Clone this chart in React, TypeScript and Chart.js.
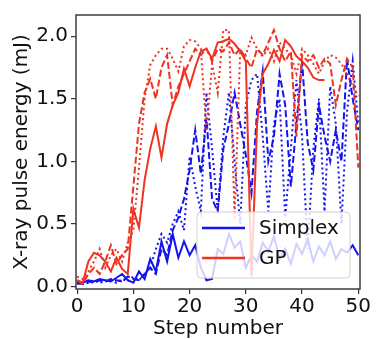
import React, { useEffect, useRef } from "react";
import { Chart, registerables } from "chart.js";

Chart.register(...registerables);

const steps = [
  0, 1, 2, 3, 4, 5, 6, 7, 8, 9, 10, 11, 12, 13, 14, 15, 16, 17, 18, 19, 20,
  21, 22, 23, 24, 25, 26, 27, 28, 29, 30, 31, 32, 33, 34, 35, 36, 37, 38, 39,
  40, 41, 42, 43, 44, 45, 46, 47, 48, 49, 50,
];

const xTicks = [0, 10, 20, 30, 40, 50];
const yTicks = [0, 0.5, 1.0, 1.5, 2.0];

const simplexSolid = [
  0.02, 0.03, 0.05, 0.04, 0.06, 0.05, 0.04, 0.07, 0.1, 0.05, 0.03, 0.12, 0.06,
  0.22, 0.12, 0.36, 0.2, 0.42, 0.23, 0.36, 0.25, 0.33, 0.15, 0.05, 0.06, 0.3,
  0.26, 0.42, 0.31, 0.36, 0.15, 0.25, 0.2, 0.35, 0.28, 0.4, 0.22, 0.3, 0.18,
  0.34, 0.26, 0.38, 0.2, 0.32, 0.25, 0.36, 0.22, 0.3, 0.27, 0.33, 0.25,
];

const simplexDashed = [
  0.03, 0.02, 0.04, 0.03, 0.05, 0.04, 0.06, 0.05, 0.04, 0.08, 0.06, 0.05, 0.1,
  0.15, 0.1, 0.3, 0.25, 0.45, 0.55, 0.7, 0.93, 1.25, 0.9, 1.35, 0.7, 0.6, 1.1,
  1.3, 1.55, 1.3, 1.05, 0.75, 1.4, 1.72, 1.0, 1.2, 1.7, 1.45, 0.8, 1.3, 1.8,
  1.15, 0.93, 1.45, 1.2, 1.0, 1.25, 1.0, 1.82, 1.5, 1.25,
];

const simplexDotted = [
  0.04, 0.02, 0.03, 0.05, 0.03, 0.04, 0.05, 0.03, 0.06, 0.04, 0.08, 0.05, 0.1,
  0.15, 0.3, 0.42, 0.35, 0.5, 0.6, 0.45, 1.04, 0.8, 0.6, 1.55, 1.1, 0.6, 1.2,
  1.55, 1.0, 0.5, 1.45, 1.65, 1.7, 1.2, 0.6, 1.3, 1.5, 0.55, 1.1, 1.65, 1.2,
  0.3, 1.1, 1.5, 0.6, 1.6, 1.3, 0.5, 1.4, 1.8, 1.3,
];

const gpSolid = [
  0.05, 0.03, 0.2, 0.27, 0.25, 0.2, 0.12, 0.23, 0.14, 0.1, 0.62, 0.47, 0.85,
  1.1, 1.28, 1.03, 1.3, 1.45, 1.55, 1.74, 1.6, 1.75, 1.88, 1.9, 1.82, 1.95,
  1.96, 1.98, 1.94, 1.88, 1.8, 0.08, 1.3, 1.7, 1.78, 1.89, 1.8, 1.97, 1.92,
  1.84, 1.8, 1.75, 1.67, 1.65, 1.65, null, null, null, null, null, null,
];

const gpDashed = [
  0.05, 0.02, 0.1, 0.15, 0.1, 0.2, 0.33, 0.18, 0.25, 0.3, 0.8, 1.3, 1.55, 1.66,
  1.5, 1.75, 1.85, 1.45, 1.6, 1.7, 1.8, 1.9, 1.85, 1.9, 1.8, 1.9, 1.88, 1.95,
  1.85, 1.9, 1.82, 1.75, 1.9, 1.85, 1.95, 2.05, 1.9, 1.8, 1.88, 1.2, 1.85, 1.8,
  1.85, 1.75, 1.82, 1.78, 1.45, 1.65, 1.82, 1.75, 0.95,
];

const gpDotted = [
  0.08, 0.06, 0.12, 0.2, 0.3, 0.15, 0.25, 0.3, 0.2, 0.35, 0.45, 0.95, 1.5, 1.77,
  1.85, 1.9, 1.9, 1.82, 1.72, 1.92, 1.97, 1.96, 1.9, 1.24, 1.78, 1.55, 2.05,
  2.05, 0.55, 1.89, 1.85, 1.99, 1.9, 1.84, 1.9, 1.8, 1.95, 1.9, 1.85, 1.7, 1.9,
  1.85, 1.78, 1.7, 1.8, 1.85, 1.83, 1.78, 1.7, 1.6, 1.52,
];

const BLUE = "#1414ee";
const RED = "#ee3322";
const FONT = "'DejaVu Sans', 'Liberation Sans', sans-serif";

const toPoints = (vals: (number | null)[]) =>
  steps.map((s, i) => ({ x: s, y: vals[i] }));

const framePlugin = {
  id: "frameAndLegend",
  afterDatasetsDraw(chart: any) {
    const { ctx, chartArea: a } = chart;
    ctx.save();
    // legend box
    const bw = 153;
    const bh = 66;
    const bx = a.right - 163;
    const by = a.bottom - 77;
    const r = 4;
    ctx.beginPath();
    ctx.moveTo(bx + r, by);
    ctx.lineTo(bx + bw - r, by);
    ctx.quadraticCurveTo(bx + bw, by, bx + bw, by + r);
    ctx.lineTo(bx + bw, by + bh - r);
    ctx.quadraticCurveTo(bx + bw, by + bh, bx + bw - r, by + bh);
    ctx.lineTo(bx + r, by + bh);
    ctx.quadraticCurveTo(bx, by + bh, bx, by + bh - r);
    ctx.lineTo(bx, by + r);
    ctx.quadraticCurveTo(bx, by, bx + r, by);
    ctx.closePath();
    ctx.fillStyle = "rgba(255,255,255,0.8)";
    ctx.fill();
    ctx.strokeStyle = "#d0d0d0";
    ctx.lineWidth = 1;
    ctx.stroke();

    const entries = [
      { label: "Simplex", color: BLUE },
      { label: "GP", color: RED },
    ];
    entries.forEach((e, i) => {
      const y = by + 16 + i * 30;
      ctx.beginPath();
      ctx.setLineDash([]);
      ctx.strokeStyle = e.color;
      ctx.lineWidth = 2.5;
      ctx.moveTo(bx + 5, y);
      ctx.lineTo(bx + 48, y);
      ctx.stroke();
      ctx.fillStyle = "#111";
      ctx.font = `20px ${FONT}`;
      ctx.textBaseline = "middle";
      ctx.textAlign = "left";
      ctx.fillText(e.label, bx + 62, y + 1);
    });

    // frame
    ctx.strokeStyle = "#3c3c3c";
    ctx.lineWidth = 1.5;
    ctx.strokeRect(a.left, a.top, a.right - a.left, a.bottom - a.top);
    ctx.restore();
  },
};

export default function App() {
  const ref = useRef<HTMLCanvasElement | null>(null);

  useEffect(() => {
    document.body.style.margin = "0";
    const canvas = ref.current;
    if (!canvas) return;
    Chart.defaults.font.family = FONT;

    const mk = (
      label: string,
      vals: (number | null)[],
      color: string,
      dash: number[],
      order: number
    ) => ({
      label,
      data: toPoints(vals),
      borderColor: color,
      backgroundColor: color,
      borderWidth: 2,
      borderDash: dash,
      borderCapStyle: "butt" as const,
      pointRadius: 0,
      tension: 0,
      fill: false,
      spanGaps: false,
      order,
    });

    const chart = new Chart(canvas, {
      type: "line",
      data: {
        datasets: [
          mk("GP", gpSolid, RED, [], 0),
          mk("GP dashed", gpDashed, RED, [7, 3], 0),
          mk("GP dotted", gpDotted, RED, [2, 3], 0),
          mk("Simplex", simplexSolid, BLUE, [], 1),
          mk("Simplex dashed", simplexDashed, BLUE, [7, 3], 1),
          mk("Simplex dotted", simplexDotted, BLUE, [2, 3], 1),
        ],
      },
      options: {
        animation: false,
        responsive: false,
        maintainAspectRatio: false,
        layout: { padding: { left: 0, top: 6, right: 16, bottom: 0 } },
        plugins: {
          legend: { display: false },
          tooltip: { enabled: false },
        },
        scales: {
          x: {
            type: "linear",
            min: -0.2,
            max: 50.3,
            afterBuildTicks: (s: any) => {
              s.ticks = xTicks.map((v) => ({ value: v }));
            },
            afterFit: (s: any) => {
              s.height = 50;
            },
            ticks: {
              font: { size: 20 },
              color: "#111",
              padding: 1,
              maxRotation: 0,
              autoSkip: false,
              callback: (v: any) => String(v),
            },
            grid: {
              display: true,
              drawOnChartArea: false,
              drawTicks: true,
              tickLength: 5,
              color: "#333",
              lineWidth: 1.2,
            },
            border: { display: false },
            title: {
              display: true,
              text: "Step number",
              font: { size: 20, lineHeight: 1 },
              color: "#111",
              padding: { top: 0, bottom: 0 },
            },
          },
          y: {
            type: "linear",
            min: -0.02,
            max: 2.17,
            afterBuildTicks: (s: any) => {
              s.ticks = yTicks.map((v) => ({ value: v }));
            },
            afterFit: (s: any) => {
              s.width = 76;
            },
            ticks: {
              font: { size: 20 },
              color: "#111",
              padding: 3,
              autoSkip: false,
              callback: (v: any) => Number(v).toFixed(1),
            },
            grid: {
              display: true,
              drawOnChartArea: false,
              drawTicks: true,
              tickLength: 5,
              color: "#333",
              lineWidth: 1.2,
            },
            border: { display: false },
            title: {
              display: true,
              text: "X-ray pulse energy (mJ)",
              font: { size: 20, lineHeight: 1.2 },
              color: "#111",
              padding: { top: 10, bottom: 0 },
            },
          },
        },
      },
      plugins: [framePlugin],
    } as any);

    return () => chart.destroy();
  }, []);

  return (
    <div style={{ position: "fixed", left: 0, top: 0, width: 376, height: 339, background: "#fff" }}>
      <canvas ref={ref} width={376} height={339} style={{ width: 376, height: 339, display: "block" }} />
    </div>
  );
}
